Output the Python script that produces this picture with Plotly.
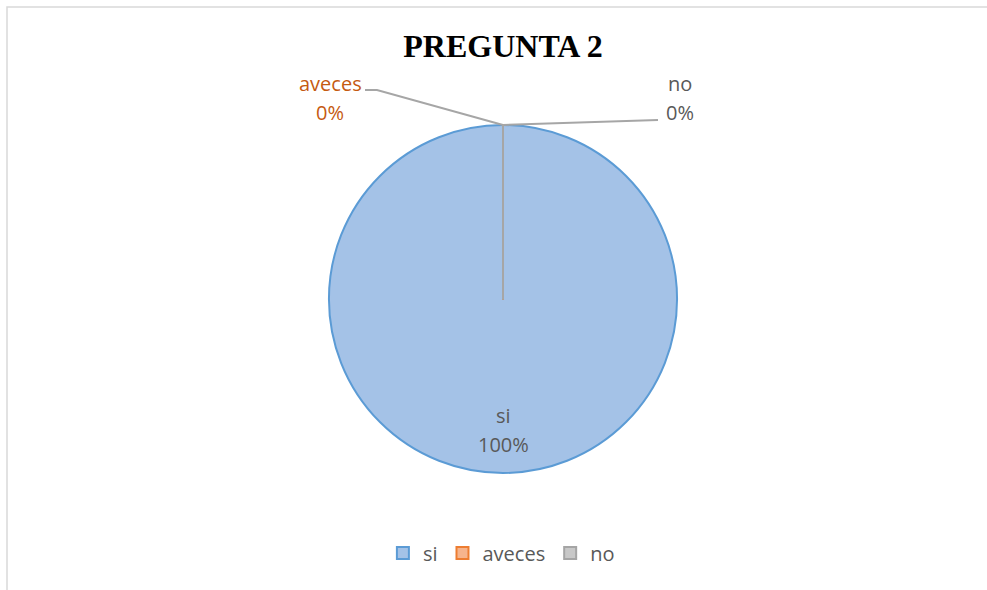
import plotly.graph_objects as go

# datos de la pregunta 2
categorias = ['si', 'aveces', 'no']
valores = [100, 0, 0]
porcentajes = ['100%', '0%', '0%']

colores_relleno = ['#a4c2e7', '#f6b48c', '#c8c8c8']
colores_borde = ['#5b9bd5', '#ed7d31', '#a5a5a5']
colores_etiqueta = ['#595959', '#c55a11', '#595959']

W, H = 987, 590
cx, cy, r = 503, 299, 174


def px(x):
    return x / W


def py(y):
    return 1 - y / H


fig = go.Figure()

fig.add_trace(go.Pie(
    labels=categorias,
    values=valores,
    sort=False,
    direction='clockwise',
    rotation=0,
    textinfo='none',
    hoverinfo='label+percent',
    marker=dict(colors=colores_relleno, line=dict(color=colores_borde, width=2)),
    domain=dict(x=[px(cx - r), px(cx + r)], y=[py(cy + r), py(cy - r)]),
))

fuente = 'Open Sans, Lato, sans-serif'

# etiquetas de datos (nombre arriba, porcentaje abajo)
pos_etiquetas = [(cx, 415), (330, 84), (680, 84)]
for i, (ex, ey) in enumerate(pos_etiquetas):
    for j, texto in enumerate([categorias[i], porcentajes[i]]):
        fig.add_annotation(x=px(ex), y=py(ey + 29 * j), xref='paper', yref='paper',
                           xanchor='center', yanchor='middle',
                           text=texto, showarrow=False,
                           font=dict(family=fuente, size=20, color=colores_etiqueta[i]))

# lineas guia
gris = '#a6a6a6'
fig.add_shape(type='path', xref='paper', yref='paper',
              path=f'M {px(365)} {py(90)} L {px(377)} {py(90)} L {px(cx)} {py(125)}',
              line=dict(color=gris, width=2))
fig.add_shape(type='line', xref='paper', yref='paper',
              x0=px(cx), y0=py(125), x1=px(658), y1=py(120),
              line=dict(color=gris, width=2))
fig.add_shape(type='line', xref='paper', yref='paper',
              x0=px(cx), y0=py(125), x1=px(cx), y1=py(cy),
              line=dict(color=gris, width=2))

# marco del grafico
fig.add_shape(type='rect', xref='paper', yref='paper',
              x0=px(7), y0=py(7), x1=1.01, y1=-0.01,
              line=dict(color='#d9d9d9', width=1.5))

fig.update_layout(
    width=W, height=H,
    margin=dict(l=0, r=0, t=0, b=0),
    paper_bgcolor='white',
    plot_bgcolor='white',
    title=dict(text='<b>PREGUNTA 2</b>', x=px(cx), xanchor='center',
               y=py(46), yanchor='middle',
               font=dict(family='Liberation Serif, Times New Roman, serif', size=32, color='black')),
    showlegend=True,
    legend=dict(orientation='h', x=0.508, xanchor='center', y=py(553), yanchor='middle',
                font=dict(family=fuente, size=20, color='#595959'),
                itemwidth=30, tracegroupgap=0),
)

fig.write_html('out.html', config={'displayModeBar': False},
               post_script="document.body.style.margin='0';document.body.style.overflow='hidden';")
